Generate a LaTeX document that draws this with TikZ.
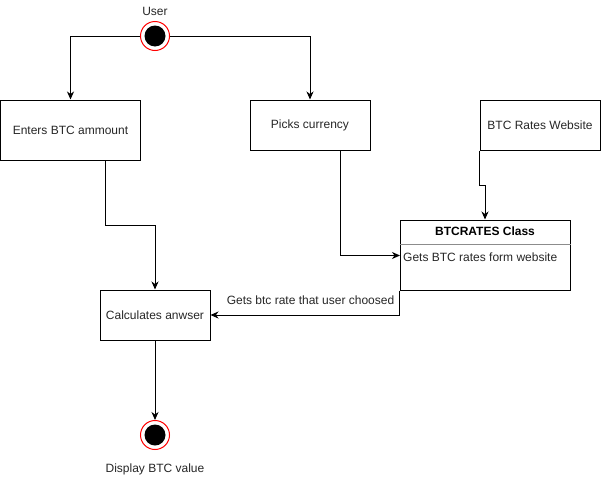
\documentclass[tikz,border=0pt]{standalone}
\usepackage{fontspec}
\setmainfont{Liberation Sans}
\usetikzlibrary{arrows.meta}
\begin{document}
\begin{tikzpicture}[x=1pt,y=-1pt,
  box/.style={draw,line width=1pt,rectangle,inner sep=0pt,font=\fontsize{12}{14}\selectfont,text=black!85},
  conn/.style={line width=1pt,-{Stealth[length=8pt,width=7pt,inset=2.5pt]}},
  lbl/.style={font=\fontsize{12}{14}\selectfont,text=black!85,inner sep=0pt},
  ring/.style={circle,draw=red,line width=1pt,minimum size=29pt,inner sep=0pt},
  dot/.style={circle,fill=black,minimum size=21pt,inner sep=0pt}]
\useasboundingbox (0,0) rectangle (602,482);
% boxes
\node[box,minimum width=140pt,minimum height=60pt] (enter) at (70.5,130) {Enters BTC ammount};
\node[box,minimum width=120pt,minimum height=50pt] (pick) at (310,125) {Picks currency};
\node[box,minimum width=120pt,minimum height=50pt] (web) at (540,125) {BTC Rates Website};
\node[box,minimum width=170pt,minimum height=70pt] (cls) at (485,255) {};
\node[lbl,font=\fontsize{12}{14}\selectfont\bfseries,text=black] (clshead) at (485,231) {BTCRATES Class};
\coordinate (sepy) at (0,244);
\draw[black!45,line width=0.8pt] (cls.west |- sepy) -- (cls.east |- sepy);
\node[lbl,anchor=west] (clsbody) at (403,257) {Gets BTC rates form website};
\node[box,minimum width=110pt,minimum height=50pt] (calc) at (155,315) {Calculates anwser};
% start / end
\node[ring] (start) at (155,36) {};
\node[dot] (startdot) at (start) {};
\node[lbl] (user) at (155,11) {User};
\node[ring] (end) at (155,435) {};
\node[dot] (enddot) at (end) {};
\node[lbl] (disp) at (155,469) {Display BTC value};
% connectors
\draw[conn] (start.west) -| (enter.north);
\draw[conn] (start.east) -| (pick.north);
\draw[conn] (web.south west) -- ++(0,35) -| (cls.north);
\coordinate (clsin) at (400,255.5);
\draw[conn] ([xshift=30.5pt]pick.south) |- (clsin);
\draw[conn] ([xshift=35pt]enter.south) -- ++(0,65) -| (calc.north);
\draw[conn] (cls.south west) |- (calc.east);
\node[lbl] (getlbl) at (310.5,300) {Gets btc rate that user choosed};
\draw[conn] (calc.south) -- (end.north);
\end{tikzpicture}
\end{document}
